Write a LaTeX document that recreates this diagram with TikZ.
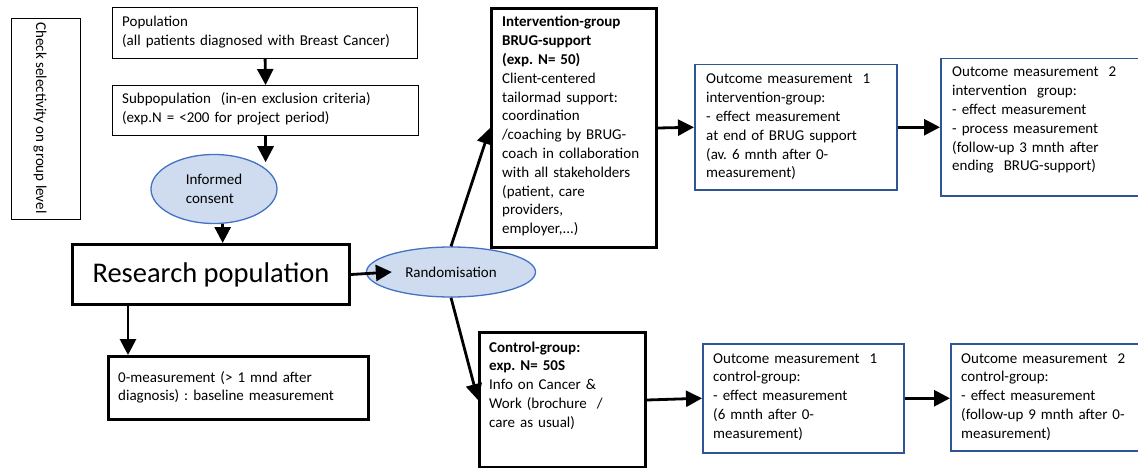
\documentclass[tikz,border=0pt]{standalone}
\usepackage{fontspec}
\setmainfont{Carlito}
\frenchspacing
\usetikzlibrary{arrows.meta,shapes.geometric,calc}
\definecolor{bxblue}{RGB}{47,85,151}
\definecolor{elblue}{RGB}{68,114,196}
\definecolor{elfill}{RGB}{207,219,238}
\begin{document}
\begin{tikzpicture}[x=1pt,y=-1pt,
  txt/.style={font=\fontsize{15}{18.8}\selectfont, text width=#1, align=left, inner sep=0pt, anchor=base west},
  thinbox/.style={draw=black, line width=1.2pt, inner sep=0pt, anchor=north west},
  thickbox/.style={draw=black, line width=3pt, inner sep=0pt, anchor=north west},
  bluebox/.style={draw=bxblue, line width=1.5pt, inner sep=0pt, anchor=north west},
  oval/.style={ellipse, draw=elblue, line width=1.3pt, fill=elfill, inner sep=0pt, font=\fontsize{15}{18.8}\selectfont},
  arr/.style={line width=2.8pt, -{Triangle[length=16pt,width=16pt]}}
]
\useasboundingbox (0,0) rectangle (1138,468);

% side box
\node[thinbox, minimum width=69pt, minimum height=201pt] (side) at (11,18) {};
\node[rotate=-90, inner sep=0pt, font=\fontsize{15}{18}\selectfont] (sidet) at (40,118) {Check selectivity on group level};

% population
\node[thinbox, minimum width=305pt, minimum height=51pt] (pop) at (112,7) {};
\node[txt=300pt] (popt) at (122,27) {Population\\(all patients diagnosed with Breast Cancer)};

% subpopulation
\node[thinbox, minimum width=306pt, minimum height=50pt] (subpop) at (112,85) {};
\node[txt=300pt] (subpopt) at (122,104) {Subpopulation\ \ (in-en exclusion criteria)\\(exp.N = <200 for project period)};

% informed consent
\node[oval, minimum width=126pt, minimum height=69pt, align=left] (consent) at (214,189) {Informed\\consent};

% research population
\node[thickbox, minimum width=277pt, minimum height=60pt, font=\fontsize{28.5}{32}\selectfont] (research) at (71,243) {Research population};

% 0-measurement
\node[thickbox, line width=2.5pt, minimum width=260pt, minimum height=63pt] (zero) at (107,355) {};
\node[txt=250pt] (zerot) at (118,382) {0-measurement (> 1 mnd after\\diagnosis) : baseline measurement};

% randomisation
\node[oval, minimum width=169pt, minimum height=50pt] (rand) at (451,272) {Randomisation};

% intervention group
\node[thickbox, minimum width=165pt, minimum height=239pt] (int) at (490,7) {};
\node[txt=160pt] (intt) at (502,27) {\textbf{Intervention-group}\\\textbf{BRUG-support}\\\textbf{(exp. N= 50)}\\Client-centered\\tailormad support:\\coordination\\/coaching by BRUG-\\coach in collaboration\\with all stakeholders\\(patient, care\\providers,\\employer,...)};

% control group
\node[thickbox, minimum width=166pt, minimum height=135pt] (ctrl) at (478,331) {};
\node[txt=160pt, font=\fontsize{15}{18.75}\selectfont] (ctrlt) at (489,352) {\textbf{Control-group:}\\\textbf{exp. N= 50S}\\Info on Cancer \&\\Work (brochure\ \ /\\care as usual)};

% outcome 1 intervention
\node[bluebox, minimum width=202pt, minimum height=125pt] (oi1) at (694,64) {};
\node[txt=200pt] (oi1t) at (706,84) {Outcome measurement\ \ 1\\intervention-group:\\- effect measurement\\at end of BRUG support\\(av. 6 mnth after 0-\\measurement)};

% outcome 2 intervention
\node[bluebox, minimum width=199pt, minimum height=137pt] (oi2) at (940,58) {};
\node[txt=200pt] (oi2t) at (952,77) {Outcome measurement\ \ 2\\intervention\ \ group:\\- effect measurement\\- process measurement\\(follow-up 3 mnth after\\ending\ \ BRUG-support)};

% outcome 1 control
\node[bluebox, minimum width=201pt, minimum height=109pt] (oc1) at (702,343) {};
\node[txt=200pt] (oc1t) at (713,363) {Outcome measurement\ \ 1\\control-group:\\- effect measurement\\(6 mnth after 0-\\measurement)};

% outcome 2 control
\node[bluebox, minimum width=189pt, minimum height=107pt] (oc2) at (950,343) {};
\node[txt=200pt] (oc2t) at (961,363) {Outcome measurement\ \ 2\\control-group:\\- effect measurement\\(follow-up 9 mnth after 0-\\measurement)};

% connectors
\draw[arr] (pop.south) -- (subpop.north);
\draw[arr] (subpop.south) -- (subpop.south |- consent.33);
\draw[arr] (consent.-76) -- (consent.-76 |- research.north);
\coordinate (rz) at ([xshift=57pt]research.south west);
\draw[arr] (rz) -- (rz |- zero.north);
\draw[arr] (research.east) -- ([xshift=26pt]rand.west);
\draw[arr] (rand.north) -- (int.west);
\draw[arr] (rand.south) -- (ctrl.west);
\draw[arr] (int.east) -- (oi1.west);
\draw[arr] (oi1.east) -- (oi1.east -| oi2.west);
\draw[arr] (ctrl.east) -- (oc1.west);
\draw[arr] (oc1.east) -- (oc1.east -| oc2.west);
\end{tikzpicture}
\end{document}
